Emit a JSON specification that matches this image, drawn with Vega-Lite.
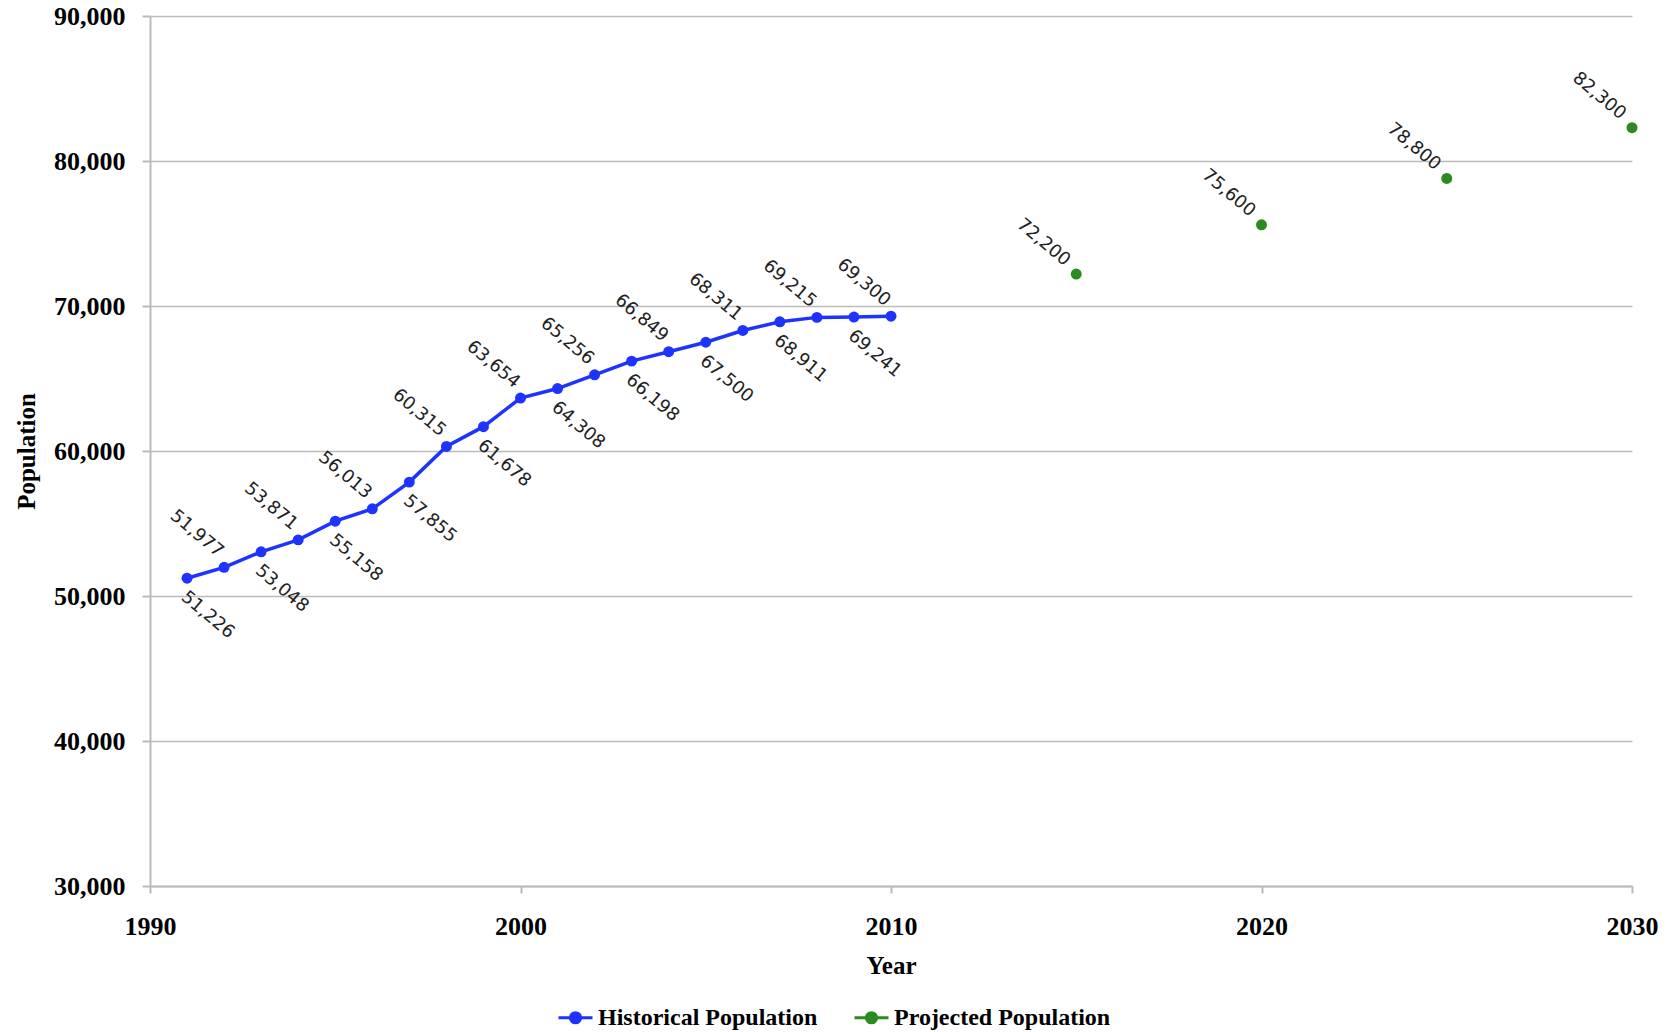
{
  "$schema": "https://vega.github.io/schema/vega-lite/v6.json",
  "width": 1482,
  "height": 870,
  "autosize": {"type": "none"},
  "padding": {"left": 150, "top": 16, "right": 42, "bottom": 146},
  "background": "white",
  "config": {
    "view": {"stroke": null},
    "axis": {
      "labelFont": "Liberation Serif",
      "labelFontWeight": "bold",
      "labelFontSize": 26,
      "labelColor": "black",
      "titleFont": "Liberation Serif",
      "titleFontWeight": "bold",
      "titleFontSize": 25,
      "titleColor": "black",
      "domainColor": "#bbbbbb",
      "domainWidth": 2,
      "tickColor": "#bbbbbb",
      "tickWidth": 2,
      "gridColor": "#bbbbbb",
      "gridWidth": 1.5
    }
  },
  "data": {
    "values": [
      {"year": 1991, "population": 51226, "series": "Historical Population"},
      {"year": 1992, "population": 51977, "series": "Historical Population"},
      {"year": 1993, "population": 53048, "series": "Historical Population"},
      {"year": 1994, "population": 53871, "series": "Historical Population"},
      {"year": 1995, "population": 55158, "series": "Historical Population"},
      {"year": 1996, "population": 56013, "series": "Historical Population"},
      {"year": 1997, "population": 57855, "series": "Historical Population"},
      {"year": 1998, "population": 60315, "series": "Historical Population"},
      {"year": 1999, "population": 61678, "series": "Historical Population"},
      {"year": 2000, "population": 63654, "series": "Historical Population"},
      {"year": 2001, "population": 64308, "series": "Historical Population"},
      {"year": 2002, "population": 65256, "series": "Historical Population"},
      {"year": 2003, "population": 66198, "series": "Historical Population"},
      {"year": 2004, "population": 66849, "series": "Historical Population"},
      {"year": 2005, "population": 67500, "series": "Historical Population"},
      {"year": 2006, "population": 68311, "series": "Historical Population"},
      {"year": 2007, "population": 68911, "series": "Historical Population"},
      {"year": 2008, "population": 69215, "series": "Historical Population"},
      {"year": 2009, "population": 69241, "series": "Historical Population"},
      {"year": 2010, "population": 69300, "series": "Historical Population"},
      {"year": 2015, "population": 72200, "series": "Projected Population"},
      {"year": 2020, "population": 75600, "series": "Projected Population"},
      {"year": 2025, "population": 78800, "series": "Projected Population"},
      {"year": 2030, "population": 82300, "series": "Projected Population"}
    ]
  },
  "encoding": {
    "x": {
      "field": "year",
      "type": "quantitative",
      "scale": {"domain": [1990, 2030], "nice": false, "zero": false},
      "axis": {
        "title": "Year",
        "values": [1990, 2000, 2010, 2020, 2030],
        "format": "d",
        "grid": false,
        "tickSize": 7,
        "labelPadding": 20,
        "labelBaseline": "top",
        "titlePadding": 14,
        "labelFlush": false
      }
    },
    "y": {
      "field": "population",
      "type": "quantitative",
      "scale": {"domain": [30000, 90000], "nice": false, "zero": false},
      "axis": {
        "title": "Population",
        "values": [30000, 40000, 50000, 60000, 70000, 80000, 90000],
        "format": ",d",
        "grid": true,
        "tickSize": 8,
        "labelPadding": 17,
        "titlePadding": 14,
        "labelFlush": false
      }
    },
    "color": {
      "field": "series",
      "type": "nominal",
      "scale": {
        "domain": ["Historical Population", "Projected Population"],
        "range": ["#1f33ff", "#2a8c1e"]
      },
      "legend": {
        "title": null,
        "orient": "none",
        "direction": "horizontal",
        "legendX": 407,
        "legendY": 983,
        "padding": 0,
        "symbolType": "M-1,0H1M-0.3,0A0.3,0.3,0,1,1,0.3,0A0.3,0.3,0,1,1,-0.3,0Z",
        "symbolSize": 1156,
        "symbolStrokeWidth": 3,
        "symbolOpacity": 1,
        "labelFont": "Liberation Serif",
        "labelFontWeight": "bold",
        "labelFontSize": 24,
        "labelColor": "black",
        "labelOffset": 4,
        "columnPadding": 30,
        "labelLimit": 400,
        "encode": {
          "symbols": {
            "update": {
              "fill": {"scale": "color", "field": "value"},
              "stroke": {"scale": "color", "field": "value"},
              "strokeWidth": {"value": 3},
              "opacity": {"value": 1}
            }
          }
        }
      }
    }
  },
  "layer": [
    {
      "transform": [{"filter": "datum.series == 'Historical Population'"}],
      "mark": {"type": "line", "strokeWidth": 3.5}
    },
    {
      "mark": {"type": "point", "filled": true, "size": 120, "opacity": 1, "shape": "circle"}
    },
    {
      "transform": [{"filter": "datum.series == 'Historical Population' && datum.year % 2 == 0"}],
      "mark": {"type": "text", "angle": 40, "align": "right", "baseline": "middle", "dx": -11, "dy": -8, "font": "DejaVu Sans", "fontSize": 18, "color": "#222222"},
      "encoding": {
        "text": {"field": "population", "type": "quantitative", "format": ",d"},
        "color": {"value": "#222222"}
      }
    },
    {
      "transform": [{"filter": "datum.series == 'Projected Population'"}],
      "mark": {"type": "text", "angle": 40, "align": "right", "baseline": "middle", "dx": -14, "dy": -3, "font": "DejaVu Sans", "fontSize": 18, "color": "#222222"},
      "encoding": {
        "text": {"field": "population", "type": "quantitative", "format": ",d"},
        "color": {"value": "#222222"}
      }
    },
    {
      "transform": [{"filter": "datum.series == 'Historical Population' && datum.year % 2 == 1"}],
      "mark": {"type": "text", "angle": 40, "align": "left", "baseline": "middle", "dx": 8, "dy": 15, "font": "DejaVu Sans", "fontSize": 18, "color": "#222222"},
      "encoding": {
        "text": {"field": "population", "type": "quantitative", "format": ",d"},
        "color": {"value": "#222222"}
      }
    }
  ]
}
